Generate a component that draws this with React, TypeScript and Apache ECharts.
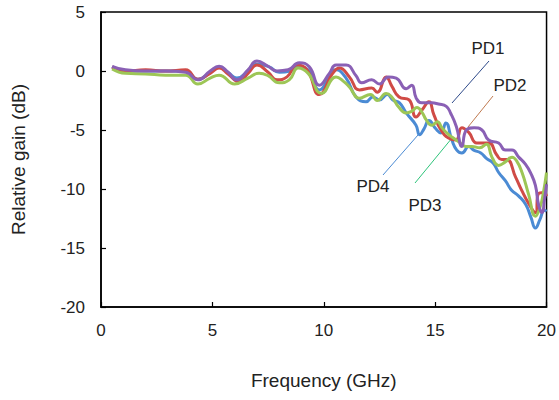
import React, { useEffect, useRef } from "react";
import * as echarts from "echarts";

// PD1 (purple)
const pd1Freq = [0.5,1.1,2.0,2.9,3.8,4.35,4.9,5.3,5.7,6.1,6.6,7.0,7.5,7.9,8.4,8.9,9.35,9.8,10.25,10.55,11.0,11.45,11.7,12.15,12.5,12.9,13.25,13.7,13.95,14.15,14.4,14.85,15.15,15.5,15.7,15.95,16.2,16.4,16.75,17.1,17.4,17.85,18.15,18.45,18.75,19.05,19.3,19.5,19.65,19.8,19.9,20.0];
const pd1Gain = [0.4,0.1,0.0,0.0,-0.1,-0.75,0.0,0.4,-0.1,-0.75,0.1,0.85,0.4,0.0,0.1,0.7,0.35,-1.2,-0.2,0.5,0.5,-0.4,-1.0,-0.75,-1.1,-0.5,-0.6,-1.5,-1.2,-2.3,-2.7,-2.7,-2.8,-3.0,-3.6,-4.7,-6.4,-5.0,-4.8,-5.0,-5.85,-6.1,-6.7,-6.7,-7.3,-7.9,-8.7,-9.7,-11.4,-12.0,-11.0,-9.6];

// PD2 (red)
const pd2Freq = [0.5,1.1,2.0,2.9,3.8,4.35,4.9,5.3,5.7,6.2,6.6,7.0,7.5,7.9,8.35,8.8,9.25,9.8,10.4,10.7,11.15,11.6,12.15,12.4,12.8,13.06,13.38,13.83,14.14,14.41,14.72,14.94,15.26,15.62,15.93,16.2,16.51,16.87,17.4,17.76,17.99,18.21,18.61,18.88,19.19,19.5,19.64,19.87,20.0];
const pd2Gain = [0.35,0.0,0.1,0.0,0.1,-0.7,-0.2,0.25,-0.25,-0.9,-0.2,0.5,-0.1,-0.75,-0.5,0.5,0.1,-2.0,-0.2,0.25,-0.5,-1.6,-1.45,-1.8,-0.5,-1.3,-2.2,-2.45,-3.9,-3.3,-2.6,-3.7,-5.0,-5.7,-5.85,-4.8,-5.2,-6.1,-6.1,-7.1,-7.5,-7.5,-9.0,-10.1,-11.2,-12.0,-10.4,-10.3,-10.6];

// PD3 (green)
const pd3Freq = [0.5,1.1,2.0,2.9,3.8,4.35,4.9,5.3,6.0,6.6,7.1,7.5,8.0,8.45,8.85,9.3,9.9,10.55,10.9,11.15,11.6,12.1,12.4,12.8,13.05,13.38,13.7,13.96,14.18,14.41,14.6,14.85,15.1,15.3,15.52,15.75,16.06,16.38,16.65,17.0,17.3,17.55,17.85,18.15,18.45,18.65,18.9,19.2,19.5,19.7,19.85,20.0];
const pd3Gain = [0.17,-0.2,-0.25,-0.35,-0.35,-1.1,-0.6,-0.35,-1.1,-0.6,-0.2,-0.4,-1.0,-0.75,0.25,-0.2,-1.9,-0.5,-0.9,-1.35,-2.3,-2.0,-2.5,-1.9,-2.2,-3.1,-3.55,-3.4,-3.1,-3.5,-4.15,-4.6,-4.3,-4.8,-5.25,-5.6,-6.0,-6.4,-6.4,-6.5,-6.2,-7.3,-8.0,-7.7,-7.3,-7.6,-8.6,-10.5,-12.3,-11.6,-10.4,-8.6];

// PD4 (blue)
const pd4Freq = [0.5,1.1,2.0,2.9,3.8,4.35,4.9,5.3,5.7,6.1,6.65,7.0,7.55,8.0,8.5,8.8,9.3,9.8,10.55,11.0,11.45,11.9,12.2,12.5,12.85,13.1,13.4,13.7,14.14,14.3,14.5,14.72,15.03,15.26,15.48,15.75,15.97,16.2,16.51,16.73,17.05,17.3,17.6,17.85,18.15,18.43,18.75,19.06,19.3,19.5,19.7,19.9,20.0];
const pd4Gain = [0.35,0,0,0,0,-0.7,-0.1,0.35,-0.1,-0.6,0.1,0.6,0.35,-0.1,0.0,0.35,0.1,-1.6,0.1,-0.6,-2.2,-2.6,-2.2,-2.45,-2.0,-2.45,-2.7,-3.55,-4.6,-5.4,-4.9,-4.2,-4.9,-5.25,-4.4,-5.85,-6.7,-6.95,-6.4,-6.7,-6.95,-7.4,-7.8,-8.6,-9.3,-10.1,-10.6,-11.3,-12.4,-13.3,-12.6,-11.8,-11.9];

const xTicks = [0, 5, 10, 15, 20];
const yTicks = [-20, -15, -10, -5, 0, 5];

const zip = (xs: number[], ys: number[]) =>
  xs.slice(0, Math.min(xs.length, ys.length)).map((x, i) => [x, ys[i]]);

const FONT = "Liberation Sans, Arial, sans-serif";

export default function App() {
  const ref = useRef<HTMLDivElement>(null);
  useEffect(() => {
    if (!ref.current) return;
    const chart = echarts.init(ref.current, undefined, { renderer: "svg" });
    const mkSeries = (name: string, xs: number[], ys: number[], color: string) => ({
      name,
      type: "line",
      data: zip(xs, ys),
      smooth: 0.5,
      showSymbol: false,
      symbol: "none",
      lineStyle: { color, width: 3 },
      itemStyle: { color },
    });
    chart.setOption({
      animation: false,
      backgroundColor: "#fff",
      textStyle: { fontFamily: FONT },
      grid: {
        left: 101,
        right: 11,
        top: 12,
        bottom: 93,
        show: true,
        borderColor: "#000",
        borderWidth: 1.5,
      },
      xAxis: {
        type: "value",
        min: xTicks[0],
        max: xTicks[xTicks.length - 1],
        interval: 5,
        name: "Frequency (GHz)",
        nameLocation: "middle",
        nameGap: 64,
        nameTextStyle: { fontSize: 19, color: "#222", fontFamily: FONT },
        axisLine: { onZero: false, lineStyle: { color: "#000", width: 1.5 } },
        axisTick: { inside: true, length: 5, lineStyle: { color: "#000", width: 1.2 } },
        axisLabel: { fontSize: 17, color: "#222", margin: 15, fontFamily: FONT },
        splitLine: { show: false },
      },
      yAxis: {
        type: "value",
        min: yTicks[0],
        max: yTicks[yTicks.length - 1],
        interval: 5,
        name: "Relative gain (dB)",
        nameLocation: "middle",
        nameGap: 73,
        nameTextStyle: { fontSize: 19, color: "#222", fontFamily: FONT },
        axisLine: { onZero: false, lineStyle: { color: "#000", width: 1.5 } },
        axisTick: { inside: true, length: 5, lineStyle: { color: "#000", width: 1.2 } },
        axisLabel: { fontSize: 17, color: "#222", margin: 16, fontFamily: FONT },
        splitLine: { show: false },
      },
      series: [
        mkSeries("PD4", pd4Freq, pd4Gain, "#4B8BD4"),
        mkSeries("PD2", pd2Freq, pd2Gain, "#D04B46"),
        mkSeries("PD3", pd3Freq, pd3Gain, "#9DC656"),
        mkSeries("PD1", pd1Freq, pd1Gain, "#8A60B5"),
      ],
      graphic: [
        { type: "line", shape: { x1: 489, y1: 61, x2: 452, y2: 103 }, style: { stroke: "#2E4A8A", lineWidth: 1 } },
        { type: "line", shape: { x1: 493, y1: 96, x2: 468, y2: 127 }, style: { stroke: "#C07A50", lineWidth: 1 } },
        { type: "line", shape: { x1: 383, y1: 175, x2: 418, y2: 135 }, style: { stroke: "#4B8BD4", lineWidth: 1 } },
        { type: "line", shape: { x1: 415, y1: 183, x2: 452, y2: 138 }, style: { stroke: "#2EC47A", lineWidth: 1 } },
        { type: "text", x: 488, y: 48, style: { text: "PD1", fontSize: 17, fill: "#222", font: `17px ${FONT}`, textAlign: "center", textVerticalAlign: "middle" } },
        { type: "text", x: 510, y: 85, style: { text: "PD2", fontSize: 17, fill: "#222", font: `17px ${FONT}`, textAlign: "center", textVerticalAlign: "middle" } },
        { type: "text", x: 373, y: 186, style: { text: "PD4", fontSize: 17, fill: "#222", font: `17px ${FONT}`, textAlign: "center", textVerticalAlign: "middle" } },
        { type: "text", x: 425, y: 205, style: { text: "PD3", fontSize: 17, fill: "#222", font: `17px ${FONT}`, textAlign: "center", textVerticalAlign: "middle" } },
      ],
    });
    return () => chart.dispose();
  }, []);
  return (
    <div
      ref={ref}
      style={{ position: "fixed", left: 0, top: 0, width: 559, height: 400, background: "#fff" }}
    />
  );
}
